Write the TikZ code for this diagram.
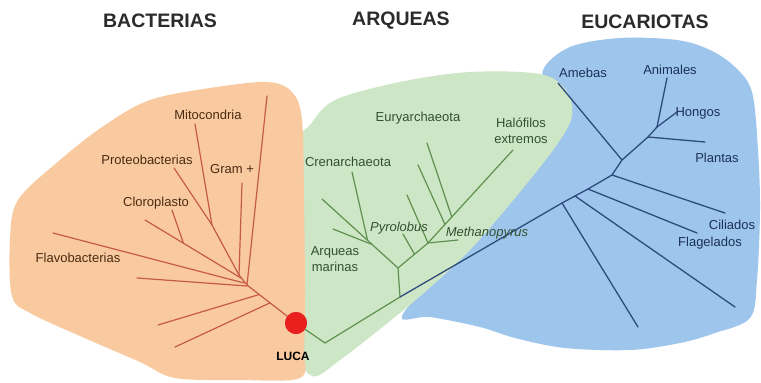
\documentclass[tikz,border=0pt]{standalone}
\usepackage{fontspec}
\setmainfont{Liberation Sans}
\usetikzlibrary{calc}
\definecolor{orangefill}{HTML}{F9CAA0}
\definecolor{greenfill}{HTML}{CDE6C6}
\definecolor{bluefill}{HTML}{9EC5EC}
\definecolor{redline}{HTML}{C65A45}
\definecolor{greenline}{HTML}{5F9050}
\definecolor{blueline}{HTML}{2D4C7C}
\definecolor{lucared}{HTML}{E8211E}
\definecolor{btext}{HTML}{4A2C12}
\definecolor{atext}{HTML}{33512F}
\definecolor{etext}{HTML}{1C3157}
\definecolor{ttext}{HTML}{2B2B2B}
\begin{document}
\begin{tikzpicture}[x=1pt,y=-1pt,
  bline/.style={draw=redline, line width=1.2pt, line cap=round},
  aline/.style={draw=greenline, line width=1.2pt, line cap=round},
  eline/.style={draw=blueline, line width=1.3pt, line cap=round},
  lab/.style={inner sep=0pt, font=\fontsize{13}{15.5}\selectfont, align=center},
  blab/.style={lab, text=btext},
  alab/.style={lab, text=atext},
  elab/.style={lab, text=etext},
  title/.style={inner sep=0pt, text=ttext, font=\fontsize{19.5}{22}\selectfont\bfseries}
]
\useasboundingbox (0,0) rectangle (761,383);
\fill[white] (0,0) rectangle (761,383);

% regions
\fill[bluefill] plot[smooth cycle, tension=0.55] coordinates {(543,70) (570,47) (620,38) (677,40) (710,50) (735,67) (752,92) (758,150) (760,210) (757,280) (750,318) (715,333) (680,343) (630,350) (565,348) (515,338) (480,327) (430,317) (402,316) (450,260) (540,150) (548,100)};
\fill[greenfill] plot[smooth cycle, tension=0.55] coordinates {(310,125) (335,100) (400,82) (470,72) (540,74) (566,90) (572,116) (556,146) (515,198) (470,250) (425,292) (385,325) (340,360) (312,376) (298,340) (298,200) (300,140)};
\fill[orangefill] plot[smooth cycle, tension=0.55] coordinates {(267,82) (292,92) (302,120) (304,200) (305,290) (304,350) (300,378) (240,380) (175,378) (140,362) (80,336) (30,313) (12,296) (10,240) (18,200) (60,160) (105,125) (150,100) (210,88)};

% LUCA
\node[circle, fill=lucared, minimum size=22pt, inner sep=0pt] (luca) at (296,323) {};

% bacteria tree
\coordinate (bj) at (247,285);
\coordinate (bm) at (212,225);
\coordinate (bg) at (239,275);
\coordinate (bt1) at (267,96);
\coordinate (bt2) at (242,183);
\coordinate (bt3) at (195,124);
\coordinate (bt4) at (174,168);
\coordinate (bt5) at (145,220);
\coordinate (bt5e) at (241,278);
\coordinate (bt6) at (172,210);
\coordinate (bt6e) at ($(bt5)!0.4!(bt5e)$);
\coordinate (bt7) at (53,233);
\coordinate (bt7e) at (244,283);
\coordinate (bt8) at (137,278);
\coordinate (bt8e) at (247,286);
\coordinate (bt9) at (158,325);
\coordinate (bt9e) at ($(bj)!0.25!(luca.center)$);
\coordinate (bt10) at (175,347);
\coordinate (bt10e) at ($(bj)!0.47!(luca.center)$);
\draw[bline] (bt1) -- (bj);
\draw[bline] (bt2) -- (bg);
\draw[bline] (bt3) -- (bm) -- (bg) -- (bj);
\draw[bline] (bt4) -- (bm);
\draw[bline] (bt5) -- (bt5e);
\draw[bline] (bt6) -- (bt6e);
\draw[bline] (bt7) -- (bt7e);
\draw[bline] (bt8) -- (bt8e);
\draw[bline] (bt9) -- (bt9e);
\draw[bline] (bt10) -- (bt10e);
\draw[bline] (bj) -- (luca.center);

% archaea tree
\coordinate (lb) at (325,343);
\coordinate (aJ) at (400,297);
\coordinate (aN) at (398,268);
\coordinate (aUL) at (322,199);
\coordinate (aCr) at (352,172);
\coordinate (aCre) at ($(aN)!0.4!(aUL)$);
\coordinate (aMa) at (333,229);
\coordinate (aMae) at ($(aN)!0.34!(aUL)$);
\coordinate (aM) at (428,243);
\coordinate (aH) at (513,150);
\coordinate (aPy) at (403,234);
\coordinate (aPye) at ($(aN)!0.55!(aM)$);
\coordinate (aL3) at (407,195);
\coordinate (aL2) at (418,165);
\coordinate (aL2e) at ($(aM)!0.2!(aH)$);
\coordinate (aL1) at (427,143);
\coordinate (aL1e) at ($(aM)!0.28!(aH)$);
\coordinate (aMe) at (458,240);
\draw[aline] (luca.center) -- (lb) -- (aJ) -- (aN);
\draw[aline] (aUL) -- (aN) -- (aM) -- (aH);
\draw[aline] (aCr) -- (aCre);
\draw[aline] (aMa) -- (aMae);
\draw[aline] (aPy) -- (aPye);
\draw[aline] (aL3) -- (aM);
\draw[aline] (aL2) -- (aL2e);
\draw[aline] (aL1) -- (aL1e);
\draw[aline] (aM) -- (aMe);

% eukaryote tree
\coordinate (e1) at (562,203);
\coordinate (e2) at (575,196);
\coordinate (e3) at (588,189);
\coordinate (e4) at (612,175);
\coordinate (e5) at (622,160);
\coordinate (e6) at (648,137);
\coordinate (e7) at (657,127);
\coordinate (eb1) at (638,327);
\coordinate (eb2) at (735,307);
\coordinate (eFl) at (697,233);
\coordinate (eCi) at (725,213);
\coordinate (eAm) at (558,83);
\coordinate (ePl) at (705,142);
\coordinate (eAn) at (667,78);
\coordinate (eHo) at (677,112);
\draw[eline] (aJ) -- (e1) -- (e2) -- (e3) -- (e4) -- (e5) -- (e6) -- (e7);
\draw[eline] (e1) -- (eb1);
\draw[eline] (e2) -- (eb2);
\draw[eline] (e3) -- (eFl);
\draw[eline] (e4) -- (eCi);
\draw[eline] (e5) -- (eAm);
\draw[eline] (e6) -- (ePl);
\draw[eline] (e7) -- (eAn);
\draw[eline] (e7) -- (eHo);

\node[fill=lucared, circle, minimum size=22pt, inner sep=0pt] at (luca) {};

% titles
\node[title] (tb) at (160,21) {BACTERIAS};
\node[title] (ta) at (401,21) {ARQUEAS};
\node[title] (te) at (645,22) {EUCARIOTAS};

% labels
\node[blab] (mito) at (208,115) {Mitocondria};
\node[blab] (proteo) at (147,160) {Proteobacterias};
\node[blab] (gram) at (232,169) {Gram +};
\node[blab] (cloro) at (156,203) {Cloroplasto};
\node[blab] (flavo) at (78,258) {Flavobacterias};
\node[inner sep=0pt, font=\fontsize{12}{14}\selectfont\bfseries, text=black] (lucal) at (293,356) {LUCA};

\node[alab] (eury) at (418,118) {Euryarchaeota};
\node[alab] (halo) at (521,131) {Halófilos\\extremos};
\node[alab] (cren) at (348,162) {Crenarchaeota};
\node[alab, font=\fontsize{13}{15.5}\selectfont\itshape] (pyro) at (399,228) {Pyrolobus};
\node[alab, font=\fontsize{13}{15.5}\selectfont\itshape] (metha) at (487,233) {Methanopyrus};
\node[alab] (marinas) at (335,259) {Arqueas\\marinas};

\node[elab] (amebas) at (583,73) {Amebas};
\node[elab] (animales) at (670,70) {Animales};
\node[elab] (hongos) at (698,113) {Hongos};
\node[elab] (plantas) at (717,158) {Plantas};
\node[elab] (ciliados) at (732,225) {Ciliados};
\node[elab] (flagelados) at (710,243) {Flagelados};
\end{tikzpicture}
\end{document}
